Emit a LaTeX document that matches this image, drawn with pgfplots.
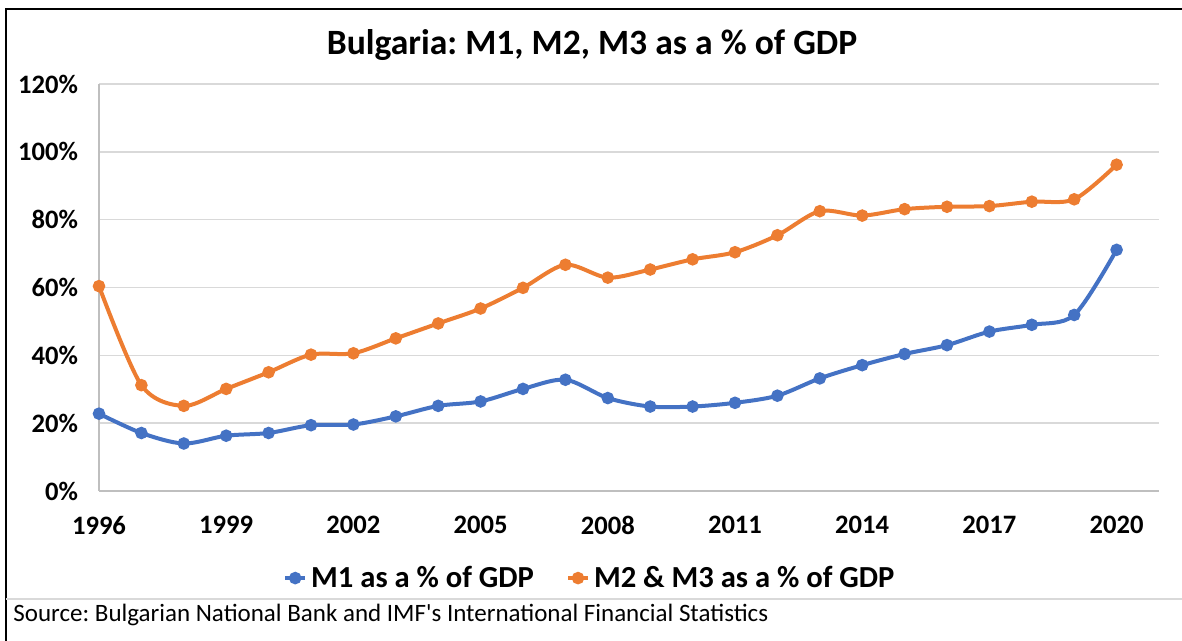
\documentclass[border=0pt]{standalone}
\usepackage{fontspec}
\setmainfont{Carlito}
\newfontfamily\srcfont{Carlito}[Ligatures=TeXOff]
\usepackage{pgfplots}
\pgfplotsset{compat=1.18}
\definecolor{mblue}{HTML}{4472C4}
\definecolor{morange}{HTML}{ED7D31}
\definecolor{gridgray}{HTML}{D9D9D9}
\definecolor{axisgray}{HTML}{BFBFBF}

\begin{document}
\frenchspacing
\begin{tikzpicture}[x=0.5pt,y=0.5pt]
\useasboundingbox (0,0) rectangle (1182,641);
% outer frame (left and top) and source strip
\draw[line width=1.3pt] (6,0) -- (6,632) -- (1182,632);
\draw[gridgray, line width=0.8pt] (6,42) -- (1182,42);
\node[anchor=west, font=\srcfont\fontsize{12.5}{14}\selectfont, inner sep=0pt] at (13,26)
  {Source: Bulgarian National Bank and IMF's International Financial Statistics};
\node[font=\bfseries\fontsize{17.8}{21}\selectfont] at (592,596)
  {Bulgaria: M1, M2, M3 as a \% of GDP};

\begin{axis}[
  at={(49.5pt,75pt)}, anchor=south west,
  scale only axis, width=530pt, height=203.5pt,
  xmin=1996, xmax=2021, ymin=0, ymax=120,
  xtick={1996,1999,...,2020}, ytick={0,20,...,120},
  axis x line*=bottom, axis y line*=left,
  axis line style={axisgray, line width=0.7pt, -},
  ymajorgrids, grid style={gridgray, line width=0.8pt},
  major tick length=0pt,
  /pgf/number format/assume math mode=true,
  /pgf/number format/1000 sep={},
  ticklabel style={font=\bfseries\fontsize{13.3}{15}\selectfont},
  yticklabel={\pgfmathprintnumber{\tick}\%},
  yticklabel style={xshift=-7pt},
  xticklabel style={yshift=-9pt},
  legend style={at={(0.464,-0.214)}, anchor=center, draw=none,
    font=\bfseries\fontsize{15.3}{18}\selectfont, inner sep=0pt,
    /tikz/every even column/.append style={column sep=14pt}},
  legend columns=2,
  legend image code/.code={\draw[mark repeat=2,mark phase=2]
    plot coordinates {(0pt,0pt)(5pt,0pt)(10pt,0pt)};},
  every axis plot/.append style={smooth, tension=0.5, line width=2pt,
    mark=*, mark size=2.1pt},
]
\addplot[mblue, mark options={fill=mblue}] coordinates {
(1996,22.8) (1997,17.1) (1998,14.0) (1999,16.3) (2000,17.1) (2001,19.4)
(2002,19.6) (2003,22.0) (2004,25.1) (2005,26.4) (2006,30.1) (2007,32.8)
(2008,27.4) (2009,24.9) (2010,24.9) (2011,26.0) (2012,28.1) (2013,33.2)
(2014,37.1) (2015,40.4) (2016,43.0) (2017,47.0) (2018,49.0) (2019,51.9)
(2020,71.1)};
\addlegendentry{M1 as a \% of GDP}
\addplot[morange, mark options={fill=morange}] coordinates {
(1996,60.4) (1997,31.2) (1998,25.1) (1999,30.1) (2000,35.0) (2001,40.2)
(2002,40.6) (2003,45.0) (2004,49.4) (2005,53.8) (2006,59.9) (2007,66.7)
(2008,62.9) (2009,65.3) (2010,68.3) (2011,70.4) (2012,75.4) (2013,82.5)
(2014,81.2) (2015,83.1) (2016,83.8) (2017,84.0) (2018,85.3) (2019,86.0)
(2020,96.2)};
\addlegendentry{M2 \& M3 as a \% of GDP}
\end{axis}
\end{tikzpicture}
\end{document}
